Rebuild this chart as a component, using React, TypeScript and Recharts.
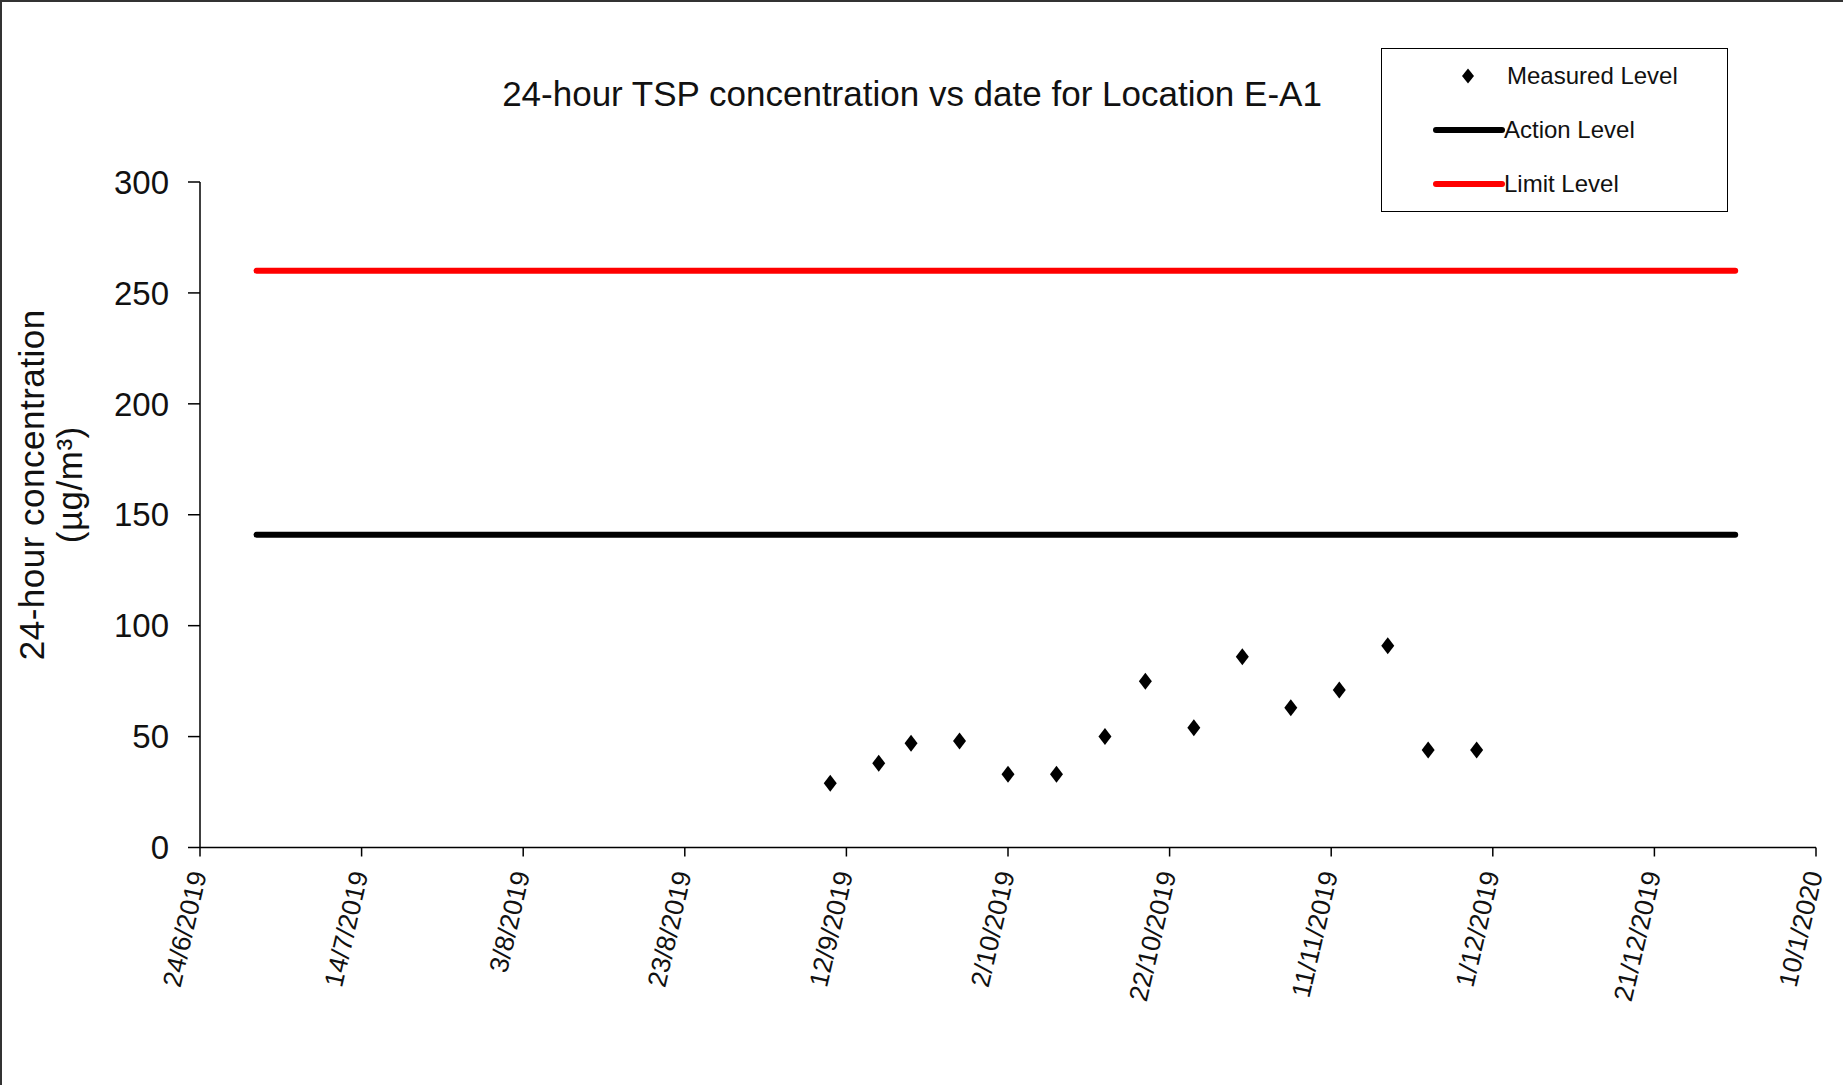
import React from 'react';
import { ComposedChart, Line, Scatter, XAxis, YAxis, Legend } from 'recharts';

// sampling dates (d/m/yyyy) and measured 24-hour TSP (µg/m3)
const sampleDates = [
    '10/9/2019', '16/9/2019', '20/9/2019', '26/9/2019', '2/10/2019',
    '8/10/2019', '14/10/2019', '19/10/2019', '25/10/2019', '31/10/2019',
    '6/11/2019', '12/11/2019', '18/11/2019', '23/11/2019', '29/11/2019',
];
const measuredLevels = [29, 38, 47, 48, 33, 33, 50, 75, 54, 86, 63, 71, 91, 44, 44];

// action / limit level lines
const levelDates = ['1/7/2019', '31/12/2019'];
const actionLevels = [141, 141];
const limitLevels = [260, 260];

const xTickLabels = [
    '24/6/2019', '14/7/2019', '3/8/2019', '23/8/2019', '12/9/2019', '2/10/2019',
    '22/10/2019', '11/11/2019', '1/12/2019', '21/12/2019', '10/1/2020',
];
const yTicks = [0, 50, 100, 150, 200, 250, 300];

const FONT = '"Liberation Sans", Arial, sans-serif';

const toTime = (d: string) => {
    const [dd, mm, yy] = d.split('/').map(Number);
    return Date.UTC(yy, mm - 1, dd);
};
const fmtDate = (t: number) => {
    const d = new Date(t);
    return `${d.getUTCDate()}/${d.getUTCMonth() + 1}/${d.getUTCFullYear()}`;
};

const measuredData = sampleDates.map((d, i) => ({ date: toTime(d), value: measuredLevels[i] }));
const actionData = levelDates.map((d, i) => ({ date: toTime(d), value: actionLevels[i] }));
const limitData = levelDates.map((d, i) => ({ date: toTime(d), value: limitLevels[i] }));
const xTicks = xTickLabels.map(toTime);

const Diamond = (props: any) => {
    const { cx, cy } = props;
    if (cx == null || cy == null) return null;
    return <polygon points={`${cx},${cy - 8.5} ${cx + 6.5},${cy} ${cx},${cy + 8.5} ${cx - 6.5},${cy}`} fill="#000" />;
};

const DateTick = (props: any) => {
    const { x, y, payload } = props;
    const ax = x - 2;
    const ay = y + 13;
    return (
        <text x={ax} y={ay} transform={`rotate(-77, ${ax}, ${ay})`} textAnchor="end" dominantBaseline="central"
            fontSize={26.5} fontFamily={FONT} fill="#111">
            {fmtDate(payload.value)}
        </text>
    );
};

const YTitle = (props: any) => {
    const { viewBox } = props;
    const cy = viewBox.y + viewBox.height / 2 - 30;
    const x1 = viewBox.x - 49;
    const x2 = viewBox.x - 11;
    return (
        <g fontFamily={FONT} fill="#111" fontSize={35} textAnchor="middle" letterSpacing={0.5}>
            <text x={x1} y={cy} transform={`rotate(-90, ${x1}, ${cy})`} dominantBaseline="central">24-hour concentration</text>
            <text x={x2} y={cy} transform={`rotate(-90, ${x2}, ${cy})`} dominantBaseline="central">(µg/m³)</text>
        </g>
    );
};

const LegendBox = () => (
    <div style={{ position: 'relative', width: 347, height: 164, border: '1.5px solid #000', boxSizing: 'border-box',
        fontFamily: FONT, fontSize: 24, color: '#111', background: '#fff' }}>
        <svg width={347} height={164} style={{ position: 'absolute', left: 0, top: 0 }}>
            <polygon points="86,19.5 92,27 86,34.5 80,27" fill="#000" />
            <line x1={54} y1={81} x2={120} y2={81} stroke="#000" strokeWidth={6} strokeLinecap="round" />
            <line x1={54} y1={135} x2={120} y2={135} stroke="#ff0000" strokeWidth={6} strokeLinecap="round" />
        </svg>
        <div style={{ position: 'absolute', left: 125, top: 27, transform: 'translateY(-50%)' }}>Measured Level</div>
        <div style={{ position: 'absolute', left: 122, top: 81, transform: 'translateY(-50%)' }}>Action Level</div>
        <div style={{ position: 'absolute', left: 122, top: 135, transform: 'translateY(-50%)' }}>Limit Level</div>
    </div>
);

export default function App() {
    return (
        <div style={{ position: 'absolute', left: 0, top: 0, width: 1843, height: 1085, background: '#fff',
            boxShadow: 'inset 2px 2px 0 #333', fontFamily: FONT }}>
            <div style={{ position: 'absolute', left: 0, width: 1824, top: 94, transform: 'translateY(-50%)',
                textAlign: 'center', fontSize: 35, color: '#111' }}>
                24-hour TSP concentration vs date for Location E-A1
            </div>
            <ComposedChart width={1843} height={1085} margin={{ top: 182, right: 27, left: 80, bottom: 97.5 }}>
                <XAxis dataKey="date" type="number" domain={[xTicks[0], xTicks[xTicks.length - 1]]} ticks={xTicks}
                    height={140} tickSize={9} tick={<DateTick />} interval={0}
                    axisLine={{ stroke: '#000', strokeWidth: 1.5 }} tickLine={{ stroke: '#000', strokeWidth: 1.5 }} />
                <YAxis type="number" domain={[0, 300]} ticks={yTicks} width={120} tickSize={12} tickMargin={19}
                    tick={{ fontSize: 33, fontFamily: FONT, fill: '#111' }} interval={0}
                    axisLine={{ stroke: '#000', strokeWidth: 1.5 }} tickLine={{ stroke: '#000', strokeWidth: 1.5 }}
                    label={{ content: <YTitle /> }} />
                <Legend layout="horizontal" verticalAlign="middle" align="center" content={<LegendBox />}
                    wrapperStyle={{ left: 1381, top: 48, width: 347, height: 164 }} />
                <Line data={limitData} dataKey="value" name="Limit Level" stroke="#ff0000" strokeWidth={6}
                    strokeLinecap="round" dot={false} isAnimationActive={false} />
                <Line data={actionData} dataKey="value" name="Action Level" stroke="#000" strokeWidth={6}
                    strokeLinecap="round" dot={false} isAnimationActive={false} />
                <Scatter data={measuredData} dataKey="value" name="Measured Level" fill="#000" shape={<Diamond />}
                    isAnimationActive={false} />
            </ComposedChart>
        </div>
    );
}
